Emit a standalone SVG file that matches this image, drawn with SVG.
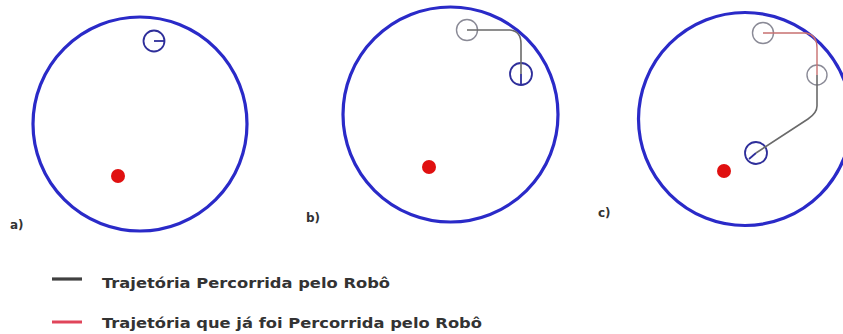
<svg xmlns="http://www.w3.org/2000/svg" width="843" height="334" viewBox="0 0 843 334">
<style>
.arena{fill:none;stroke:#2a2ac8;stroke-width:3.2}
.robot{fill:none;stroke:#2e2e9a;stroke-width:1.8}
.past{fill:none;stroke:#8a8a96;stroke-width:1.4}
.path{fill:none;stroke:#6a6a6a;stroke-width:1.6}
.done{fill:none;stroke:#c87070;stroke-width:1.4}
.goal{fill:#e01010}
.lbl{font-family:"DejaVu Sans",Verdana,sans-serif;font-weight:bold;font-size:12px;fill:#333}
.leg{font-family:"DejaVu Sans",Verdana,sans-serif;font-weight:bold;font-size:13.5px;fill:#333}
</style>
<rect width="843" height="334" fill="#ffffff"/>
<g id="panel-a">
<circle class="arena" cx="140" cy="124" r="107"/>
<circle class="goal" cx="118" cy="176" r="7"/>
<g id="robot-a">
<circle class="robot" cx="154" cy="41" r="10.5"/>
<line class="robot" x1="154" y1="41" x2="164.5" y2="41"/>
</g>
<text class="lbl" x="10" y="229">a)</text>
</g>
<g id="panel-b">
<circle class="arena" cx="450.5" cy="114.5" r="107.5"/>
<circle class="goal" cx="429" cy="167" r="7"/>
<g id="robot-b-past">
<circle class="past" cx="467" cy="30" r="10.5"/>
</g>
<g id="robot-b">
<circle class="robot" cx="521" cy="74" r="11"/>
<line class="robot" x1="521" y1="74" x2="521" y2="85"/>
</g>
<text class="lbl" x="306" y="222">b)</text>
</g>
<g id="panel-c">
<circle class="arena" cx="745" cy="119" r="106.5"/>
<circle class="goal" cx="724" cy="171" r="7"/>
<g id="robot-c-past1">
<circle class="past" cx="763" cy="33" r="10.5"/>
</g>
<g id="robot-c-past2">
<circle class="past" cx="817" cy="75" r="10"/>
</g>
<g id="robot-c">
<circle class="robot" cx="756" cy="153" r="11"/>
<line class="robot" x1="756" y1="153" x2="749" y2="159"/>
</g>
<text class="lbl" x="598" y="217">c)</text>
</g>
<g id="connectors">
<path class="path" d="M467 30 L510 30 Q521 31 521 44 L521 74"/>
<path class="done" d="M763 33 L806 33 Q817 35 817 48 L817 75"/>
<path class="path" d="M817 75 L817 106 Q817 113 808 119 L756 153"/>
</g>
<g id="legend">
<line x1="52" y1="279" x2="82" y2="279" stroke="#404040" stroke-width="3.2"/>
<text class="leg" x="102" y="288" textLength="288" lengthAdjust="spacingAndGlyphs">Trajetória Percorrida pelo Robô</text>
<line x1="52" y1="322" x2="82" y2="322" stroke="#e0455a" stroke-width="3"/>
<text class="leg" x="102" y="328" textLength="380" lengthAdjust="spacingAndGlyphs">Trajetória que já foi Percorrida pelo Robô</text>
</g>
</svg>
